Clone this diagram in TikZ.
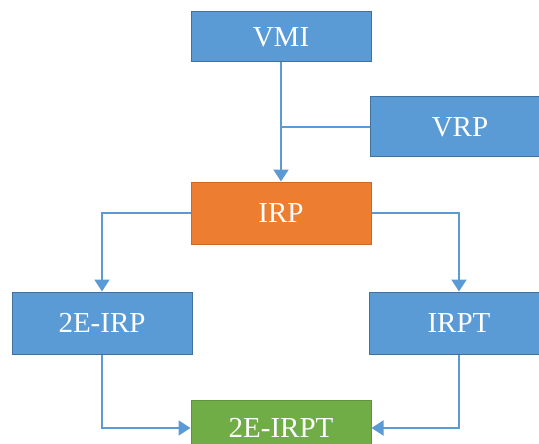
\documentclass[tikz,border=0pt]{standalone}
\usepackage{fontspec}
\setmainfont{Liberation Serif}
\usetikzlibrary{arrows.meta}
\definecolor{bxblue}{HTML}{5B9BD5}
\definecolor{bxblueedge}{HTML}{41719C}
\definecolor{bxorange}{HTML}{ED7D31}
\definecolor{bxgreen}{HTML}{70AD47}
\definecolor{lnblue}{HTML}{5B9BD5}
\tikzset{
  box/.style={rectangle, minimum width=180pt, minimum height=62pt, inner sep=0pt,
    text=white, font=\fontsize{29}{31}\selectfont, line width=1pt},
  bluebox/.style={box, fill=bxblue, draw=bxblueedge},
  orangebox/.style={box, fill=bxorange, draw=bxorange!85!black},
  greenbox/.style={box, fill=bxgreen, draw=bxgreen!85!black},
  conn/.style={draw=lnblue, line width=2pt},
  arr/.style={conn, -{Triangle[width=15pt,length=12pt]}}
}
\begin{document}
\begin{tikzpicture}[x=1pt,y=-1pt]
\clip (0,0) rectangle (539,444);
\fill[white] (0,0) rectangle (539,444);
\node[bluebox, minimum height=50pt] (vmi) at (281,37) {VMI};
\node[bluebox, minimum height=60pt] (vrp) at (460,127) {VRP};
\node[orangebox] (irp) at (281,213) {IRP};
\node[bluebox] (eirp) at (102,323) {2E-IRP};
\node[bluebox] (irpt) at (459,323) {IRPT};
\node[greenbox, minimum height=56pt] (eirpt) at (281,428) {2E-IRPT};
\coordinate (join) at (vmi.south |- vrp.west);
\draw[arr] (vmi.south) -- (irp.north);
\draw[conn] (vrp.west) -- (join);
\draw[arr] (irp.west) -| (eirp.north);
\draw[arr] (irp.east) -| (irpt.north);
\draw[arr] (eirp.south) |- (eirpt.west);
\draw[arr] (irpt.south) |- (eirpt.east);
\end{tikzpicture}
\end{document}
